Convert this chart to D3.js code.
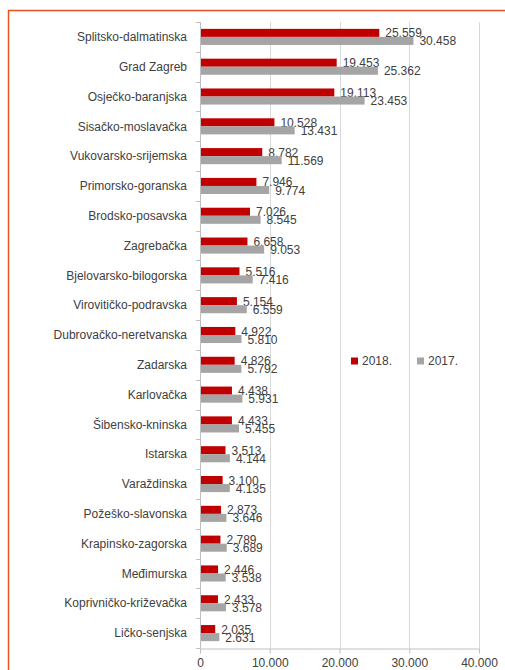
<!DOCTYPE html>
<html>
<head>
<meta charset="utf-8">
<script src="https://cdn.jsdelivr.net/npm/d3@7"></script>
<style>
	body { margin: 0; background: #fff; }
	text { font-family: "Liberation Sans", Arial, sans-serif; }
</style>
</head>
<body>
<div id="chart"></div>
<script>
(function () {

	"use strict";

	// counties, top to bottom
	var zupanije = [
		'Splitsko-dalmatinska', 'Grad Zagreb', 'Osječko-baranjska', 'Sisačko-moslavačka',
		'Vukovarsko-srijemska', 'Primorsko-goranska', 'Brodsko-posavska', 'Zagrebačka',
		'Bjelovarsko-bilogorska', 'Virovitičko-podravska', 'Dubrovačko-neretvanska', 'Zadarska',
		'Karlovačka', 'Šibensko-kninska', 'Istarska', 'Varaždinska', 'Požeško-slavonska',
		'Krapinsko-zagorska', 'Međimurska', 'Koprivničko-križevačka', 'Ličko-senjska'
	];
	var god2018 = [25559, 19453, 19113, 10528, 8782, 7946, 7026, 6658, 5516, 5154, 4922,
		4826, 4438, 4433, 3513, 3100, 2873, 2789, 2446, 2433, 2035];
	var god2017 = [30458, 25362, 23453, 13431, 11569, 9774, 8545, 9053, 7416, 6559, 5810,
		5792, 5931, 5455, 4144, 4135, 3646, 3689, 3538, 3578, 2631];
	var xTicks = [0, 10000, 20000, 30000, 40000];
	var serije = ['2018.', '2017.'];
	var boje = ['#c00000', '#a5a5a5'];

	var W = 505, H = 670;
	var left = 200, right = 479, top = 22, bottom = 648;

	// 12.345 style numbers
	var fmt = function (v) {
		return d3.format(',')(v).replace(/,/g, '.');
	};

	var svg = d3.select('#chart').append('svg')
		.attr('width', W).attr('height', H);

	// orange frame, runs off the page on the right and bottom
	svg.append('rect')
		.attr('x', 8.5).attr('y', 10.5)
		.attr('width', 600).attr('height', 700)
		.attr('fill', 'none')
		.attr('stroke', '#e8511f')
		.attr('stroke-width', 1.5);

	var x = d3.scaleLinear().domain([0, 40000]).range([left, right]);
	var y = d3.scaleBand().domain(zupanije).range([top, bottom]).paddingInner(0.46).paddingOuter(0.23);
	var bh = y.bandwidth() / 2;

	// gridlines
	svg.append('g').selectAll('line')
		.data(xTicks.slice(1))
		.enter().append('line')
		.attr('x1', function (d) { return Math.round(x(d)) + 0.5; })
		.attr('x2', function (d) { return Math.round(x(d)) + 0.5; })
		.attr('y1', top).attr('y2', bottom)
		.attr('stroke', '#d9d9d9');

	// bottom axis
	var xAxis = svg.append('g')
		.attr('transform', 'translate(0,' + (bottom + 0.5) + ')')
		.call(d3.axisBottom(x).tickValues(xTicks).tickFormat(fmt).tickSizeInner(5).tickSizeOuter(0));
	xAxis.select('.domain').attr('stroke', '#bfbfbf');
	xAxis.selectAll('.tick line').attr('stroke', '#bfbfbf');
	xAxis.selectAll('.tick text')
		.attr('font-size', 12).attr('fill', '#404040').attr('dy', '0.85em')
		.attr('font-family', '"Liberation Sans", Arial, sans-serif');

	// left axis with ticks between the categories
	var yg = svg.append('g');
	yg.append('line')
		.attr('x1', left + 0.5).attr('x2', left + 0.5)
		.attr('y1', top).attr('y2', bottom + 0.5)
		.attr('stroke', '#bfbfbf');
	var step = (bottom - top) / zupanije.length;
	yg.selectAll('line.tk')
		.data(d3.range(zupanije.length + 1))
		.enter().append('line')
		.attr('class', 'tk')
		.attr('x1', left - 4).attr('x2', left)
		.attr('y1', function (i) { return Math.round(top + i * step) + 0.5; })
		.attr('y2', function (i) { return Math.round(top + i * step) + 0.5; })
		.attr('stroke', '#bfbfbf');
	yg.selectAll('text')
		.data(zupanije)
		.enter().append('text')
		.attr('x', left - 13)
		.attr('y', function (d) { return y(d) + y.bandwidth() / 2; })
		.attr('dy', '0.35em')
		.attr('text-anchor', 'end')
		.attr('font-size', 12)
		.attr('fill', '#404040')
		.text(function (d) { return d; });

	// bars and labels
	[god2018, god2017].forEach(function (vals, s) {
		var g = svg.append('g');
		g.selectAll('rect')
			.data(vals)
			.enter().append('rect')
			.attr('x', x(0) + 1)
			.attr('y', function (d, i) { return y(zupanije[i]) + s * bh; })
			.attr('width', function (d) { return x(d) - x(0); })
			.attr('height', bh)
			.attr('fill', boje[s]);
		g.selectAll('text')
			.data(vals)
			.enter().append('text')
			.attr('x', function (d) { return x(d) + 7; })
			.attr('y', function (d, i) { return y(zupanije[i]) + (s + 1) * bh + 0.5; })
			.attr('font-size', 12)
			.attr('fill', '#404040')
			.text(function (d) { return fmt(d); });
	});

	// legend
	var lg = svg.append('g').attr('transform', 'translate(351,361)');
	serije.forEach(function (name, i) {
		lg.append('rect')
			.attr('x', i * 66).attr('y', -3.5)
			.attr('width', 7).attr('height', 7)
			.attr('fill', boje[i]);
		lg.append('text')
			.attr('x', i * 66 + 11).attr('y', 0)
			.attr('dy', '0.35em')
			.attr('font-size', 12)
			.attr('fill', '#404040')
			.text(name);
	});

}).call(this);
</script>
</body>
</html>
